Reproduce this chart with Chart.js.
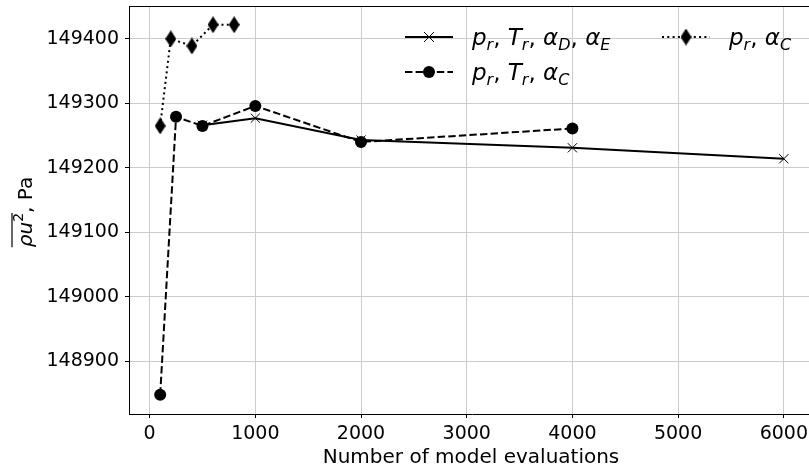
<!DOCTYPE html>
<html>
<head>
<meta charset="utf-8">
<script src="https://cdn.jsdelivr.net/npm/chart.js@4/dist/chart.umd.min.js"></script>
<style>
  html, body { margin: 0; padding: 0; background: #fff; overflow: hidden; }
  #wrap { width: 809px; height: 469px; overflow: hidden; }
</style>
</head>
<body>
<div id="wrap"><canvas id="chart" width="815" height="469"></canvas></div>
<script>
// number of model evaluations and mean rho*u^2 (Pa) for each parameter set
const evalsA = [500, 1000, 2000, 4000, 6000];
const valsA = [149266, 149277, 149243, 149231, 149214];
const evalsB = [100, 250, 500, 1000, 2000, 4000];
const valsB = [148848, 149279, 149265, 149296, 149240, 149261];
const evalsC = [100, 200, 400, 600, 800];
const valsC = [149265, 149400, 149389, 149422, 149422];

const xTicks = [0, 1000, 2000, 3000, 4000, 5000, 6000];
const yTicks = [148900, 149000, 149100, 149200, 149300, 149400];

const FONT = "DejaVu Sans";

function thinDiamond(w, h) {
  const c = document.createElement("canvas");
  c.width = w;
  c.height = h;
  const g = c.getContext("2d");
  g.fillStyle = "#000";
  g.beginPath();
  g.moveTo(w / 2, 0);
  g.lineTo(w, h / 2);
  g.lineTo(w / 2, h);
  g.lineTo(0, h / 2);
  g.closePath();
  g.fill();
  return c;
}
const diamond = thinDiamond(11, 17);

function toXY(xs, ys) {
  return xs.map((x, i) => ({ x: x, y: ys[i] }));
}

// draw text made of parts: i = italic, s = subscript, p = superscript, n = normal
function fontFor(st, size) {
  const small = st === "s" || st === "p";
  const sz = small ? Math.round(size * 0.7) : size;
  const ital = st === "i" || st === "s" ? "italic " : "";
  return ital + sz + "px '" + FONT + "'";
}
function richWidth(ctx, parts, size) {
  let w = 0;
  for (const [t, st] of parts) {
    ctx.font = fontFor(st, size);
    w += ctx.measureText(t).width;
  }
  return w;
}
function drawRich(ctx, x, y, parts, size) {
  let cx = x;
  for (const [t, st] of parts) {
    ctx.font = fontFor(st, size);
    let dy = 0;
    if (st === "s") dy = size * 0.22;
    if (st === "p") dy = -size * 0.45;
    ctx.fillText(t, cx, y + dy);
    cx += ctx.measureText(t).width;
  }
  return cx;
}

const legendItems = [
  { x: 405, y: 37, kind: "x", dash: [],
    parts: [["p","i"],["r","s"],[", ","n"],["T","i"],["r","s"],[", ","n"],["α","i"],["D","s"],[", ","n"],["α","i"],["E","s"]] },
  { x: 405, y: 72, kind: "o", dash: [7.4, 3.2],
    parts: [["p","i"],["r","s"],[", ","n"],["T","i"],["r","s"],[", ","n"],["α","i"],["C","s"]] },
  { x: 662, y: 37, kind: "d", dash: [2, 3.3],
    parts: [["p","i"],["r","s"],[", ","n"],["α","i"],["C","s"]] }
];

const decorPlugin = {
  id: "decor",
  afterDraw(chart) {
    const ctx = chart.ctx;
    const a = chart.chartArea;
    ctx.save();
    // top spine
    ctx.strokeStyle = "#000";
    ctx.lineWidth = 1;
    ctx.beginPath();
    ctx.moveTo(a.left, a.top + 0.5);
    ctx.lineTo(a.right, a.top + 0.5);
    ctx.stroke();

    // y axis title with overline
    ctx.fillStyle = "#000";
    ctx.textBaseline = "alphabetic";
    ctx.textAlign = "left";
    const size = 20;
    const yParts = [["ρ","i"],["u","i"],["2","p"],[", Pa","n"]];
    const w = richWidth(ctx, yParts, size);
    const wBar = richWidth(ctx, yParts.slice(0, 3), size);
    ctx.translate(32, 212);
    ctx.rotate(-Math.PI / 2);
    drawRich(ctx, -w / 2, 0, yParts, size);
    ctx.lineWidth = 1.2;
    ctx.beginPath();
    ctx.moveTo(-w / 2, -20);
    ctx.lineTo(-w / 2 + wBar, -20);
    ctx.stroke();
    ctx.setTransform(1, 0, 0, 1, 0, 0);

    // legend
    for (const it of legendItems) {
      ctx.strokeStyle = "#000";
      ctx.lineWidth = 2;
      ctx.setLineDash(it.dash);
      ctx.beginPath();
      ctx.moveTo(it.x, it.y);
      ctx.lineTo(it.x + 48, it.y);
      ctx.stroke();
      ctx.setLineDash([]);
      const mx = it.x + 24;
      if (it.kind === "x") {
        ctx.lineWidth = 1;
        ctx.beginPath();
        ctx.moveTo(mx - 5, it.y - 5); ctx.lineTo(mx + 5, it.y + 5);
        ctx.moveTo(mx - 5, it.y + 5); ctx.lineTo(mx + 5, it.y - 5);
        ctx.stroke();
      } else if (it.kind === "o") {
        ctx.beginPath();
        ctx.arc(mx, it.y, 6, 0, Math.PI * 2);
        ctx.fill();
      } else {
        ctx.drawImage(diamond, mx - 5.5, it.y - 8.5);
      }
      drawRich(ctx, it.x + 67, it.y + 8, it.parts, 23);
    }
    ctx.restore();
  }
};

const gridStyle = {
  color: "#cccccc",
  lineWidth: 1,
  tickColor: "#000",
  tickLength: 4,
  drawTicks: true
};

new Chart(document.getElementById("chart"), {
  type: "line",
  data: {
    datasets: [
      {
        label: "p_r, T_r, α_D, α_E",
        data: toXY(evalsA, valsA),
        borderColor: "#000",
        backgroundColor: "#000",
        borderWidth: 2,
        pointStyle: "crossRot",
        pointRadius: 6.5,
        pointBorderWidth: 1,
        tension: 0,
        order: 3
      },
      {
        label: "p_r, T_r, α_C",
        data: toXY(evalsB, valsB),
        borderColor: "#000",
        backgroundColor: "#000",
        borderWidth: 2,
        borderDash: [7.4, 3.2],
        pointStyle: "circle",
        pointRadius: 6,
        pointBorderWidth: 0,
        tension: 0,
        order: 2
      },
      {
        label: "p_r, α_C",
        data: toXY(evalsC, valsC),
        borderColor: "#000",
        backgroundColor: "#000",
        borderWidth: 2,
        borderDash: [2, 3.3],
        pointStyle: diamond,
        tension: 0,
        order: 1
      }
    ]
  },
  options: {
    responsive: false,
    animation: false,
    devicePixelRatio: 1,
    layout: { autoPadding: false, padding: { top: 6, right: 0, left: 0, bottom: 0 } },
    plugins: {
      legend: { display: false },
      tooltip: { enabled: false }
    },
    scales: {
      x: {
        type: "linear",
        min: -195,
        max: 6295,
        grid: gridStyle,
        border: { color: "#000", width: 1 },
        afterBuildTicks: (s) => { s.ticks = xTicks.map((v) => ({ value: v })); },
        afterFit: (s) => { s.height = 55; s.paddingLeft = 0; s.paddingRight = 0; },
        ticks: {
          color: "#000",
          padding: 5,
          maxRotation: 0,
          font: { family: FONT, size: 19 },
          callback: (v) => String(v)
        },
        title: { display: false }
      },
      y: {
        type: "linear",
        min: 148818,
        max: 149451,
        grid: gridStyle,
        border: { color: "#000", width: 1 },
        afterBuildTicks: (s) => { s.ticks = yTicks.map((v) => ({ value: v })); },
        afterFit: (s) => { s.width = 129; s.paddingTop = 0; s.paddingBottom = 0; },
        ticks: {
          color: "#000",
          padding: 6,
          font: { family: FONT, size: 19 },
          callback: (v) => String(v)
        }
      }
    }
  },
  plugins: [decorPlugin, {
    id: "xlabel",
    afterDraw(chart) {
      const ctx = chart.ctx;
      ctx.save();
      ctx.fillStyle = "#000";
      ctx.font = "20px '" + FONT + "'";
      ctx.textAlign = "center";
      ctx.textBaseline = "alphabetic";
      ctx.fillText("Number of model evaluations", 471, 463);
      ctx.restore();
    }
  }]
});
</script>
</body>
</html>
